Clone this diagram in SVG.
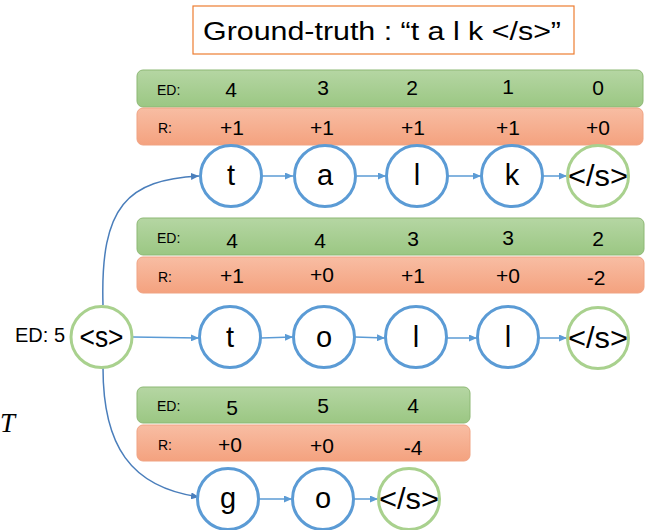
<svg xmlns="http://www.w3.org/2000/svg" width="654" height="530" viewBox="0 0 654 530">
  <defs>
    <linearGradient id="gGreen" x1="0" y1="0" x2="0" y2="1">
      <stop offset="0" stop-color="#B5D6A3"/>
      <stop offset="1" stop-color="#9BC783"/>
    </linearGradient>
    <linearGradient id="gOrange" x1="0" y1="0" x2="0" y2="1">
      <stop offset="0" stop-color="#F8BDA3"/>
      <stop offset="1" stop-color="#F4A27F"/>
    </linearGradient>
    <marker id="arrow" viewBox="0 0 8 7" refX="8" refY="3.5" markerWidth="8" markerHeight="7" markerUnits="userSpaceOnUse" orient="auto">
      <path d="M0,0 L8,3.5 L0,7 z" fill="#5B9BD5"/>
    </marker>
    <marker id="arrowDark" viewBox="0 0 8 7" refX="8" refY="3.5" markerWidth="8" markerHeight="7" markerUnits="userSpaceOnUse" orient="auto">
      <path d="M0,0 L8,3.5 L0,7 z" fill="#4A7EBB"/>
    </marker>
  </defs>
  <style>
    text { font-family: "Liberation Sans", Arial, sans-serif; fill: #000; }
    .bar-ed { fill: url(#gGreen); stroke: #8DB874; stroke-width: 1; }
    .bar-r { fill: url(#gOrange); stroke: #F0A383; stroke-width: 1; }
    .lbl { font-size: 14px; }
    .val { font-size: 21px; text-anchor: middle; }
    .node { fill: #fff; stroke: #5B9BD5; stroke-width: 3; }
    .end { fill: #fff; stroke: #A9D18E; stroke-width: 3; }
    .ntxt { font-size: 29px; text-anchor: middle; }
    .link { fill: none; stroke: #5B9BD5; stroke-width: 1.5; marker-end: url(#arrow); }
    .curve { fill: none; stroke: #4A7EBB; stroke-width: 1.5; marker-end: url(#arrowDark); }
    .margin { font-family: "Liberation Serif", "Times New Roman", serif; font-style: italic; font-size: 27px; }
  </style>

  <!-- title -->
  <g id="title">
    <rect x="193" y="6" width="381" height="48" fill="#fff" stroke="#ED7D31" stroke-width="1.2"/>
    <text x="203" y="40" font-size="25" textLength="358" lengthAdjust="spacingAndGlyphs">Ground-truth : “t a l k &lt;/s&gt;”</text>
  </g>

  <!-- score bars, hypothesis 1 -->
  <g id="bars1">
    <rect class="bar-ed" x="137" y="70" width="506" height="37" rx="6"/>
    <rect class="bar-r" x="137" y="108" width="506" height="37" rx="6"/>
    <text class="lbl" x="157" y="95">ED:</text>
    <text class="lbl" x="158" y="133">R:</text>
    <text class="val" x="231" y="97">4</text>
    <text class="val" x="323" y="95">3</text>
    <text class="val" x="412" y="95">2</text>
    <text class="val" x="508" y="94">1</text>
    <text class="val" x="598" y="95">0</text>
    <text class="val" x="232" y="135">+1</text>
    <text class="val" x="322" y="135">+1</text>
    <text class="val" x="413" y="135">+1</text>
    <text class="val" x="508" y="135">+1</text>
    <text class="val" x="598" y="135">+0</text>
  </g>

  <!-- score bars, hypothesis 2 -->
  <g id="bars2">
    <rect class="bar-ed" x="137" y="218" width="507" height="37" rx="6"/>
    <rect class="bar-r" x="137" y="257" width="507" height="36" rx="6"/>
    <text class="lbl" x="157" y="243">ED:</text>
    <text class="lbl" x="158" y="282">R:</text>
    <text class="val" x="232" y="248">4</text>
    <text class="val" x="320" y="248">4</text>
    <text class="val" x="413" y="246">3</text>
    <text class="val" x="508" y="245">3</text>
    <text class="val" x="598" y="246">2</text>
    <text class="val" x="232" y="283">+1</text>
    <text class="val" x="322" y="282">+0</text>
    <text class="val" x="413" y="283">+1</text>
    <text class="val" x="508" y="283">+0</text>
    <text class="val" x="596" y="285">-2</text>
  </g>

  <!-- score bars, hypothesis 3 -->
  <g id="bars3">
    <rect class="bar-ed" x="137" y="387" width="333" height="36" rx="6"/>
    <rect class="bar-r" x="137" y="425" width="333" height="36" rx="6"/>
    <text class="lbl" x="157" y="411">ED:</text>
    <text class="lbl" x="158" y="450">R:</text>
    <text class="val" x="232" y="415">5</text>
    <text class="val" x="323" y="413">5</text>
    <text class="val" x="413" y="413">4</text>
    <text class="val" x="230" y="452">+0</text>
    <text class="val" x="322" y="453">+0</text>
    <text class="val" x="413" y="455">-4</text>
  </g>

  <!-- connectors -->
  <g id="connectors">
    <path class="curve" d="M103,305 C100,205 128,180 199,176"/>
    <path class="curve" d="M103,368 C103,445 130,487 199,497"/>
    <path class="link" d="M262,176 L293,176"/>
    <path class="link" d="M357,176 L386,176"/>
    <path class="link" d="M448,176 L481,176"/>
    <path class="link" d="M543,176 L567,176"/>
    <path class="link" d="M133,337 L199,338"/>
    <path class="link" d="M261,338 L293,337"/>
    <path class="link" d="M355,337 L385,338"/>
    <path class="link" d="M447,338 L477,338"/>
    <path class="link" d="M539,338 L567,338"/>
    <path class="link" d="M259,499 L292,499"/>
    <path class="link" d="M354,499 L378,499"/>
  </g>

  <!-- start node -->
  <g id="n-start">
    <circle class="end" cx="101.5" cy="337" r="30.5"/>
    <text class="ntxt" x="101.5" y="347" textLength="44" lengthAdjust="spacingAndGlyphs">&lt;s&gt;</text>
    <text x="15" y="342" font-size="20">ED: 5</text>
  </g>

  <!-- hypothesis 1: t a l k </s> -->
  <g id="n1-t"><circle class="node" cx="231" cy="176" r="30.5"/><text class="ntxt" x="231" y="185">t</text></g>
  <g id="n1-a"><circle class="node" cx="325" cy="176" r="30.5"/><text class="ntxt" x="325" y="185">a</text></g>
  <g id="n1-l"><circle class="node" cx="417" cy="176" r="30.5"/><text class="ntxt" x="417" y="185">l</text></g>
  <g id="n1-k"><circle class="node" cx="512" cy="176" r="30.5"/><text class="ntxt" x="512" y="185">k</text></g>
  <g id="n1-end"><circle class="end" cx="598" cy="176" r="30.5"/><text class="ntxt" x="598" y="186" textLength="60" lengthAdjust="spacingAndGlyphs">&lt;/s&gt;</text></g>

  <!-- hypothesis 2: t o l l </s> -->
  <g id="n2-t"><circle class="node" cx="230" cy="337" r="30.5"/><text class="ntxt" x="230" y="347">t</text></g>
  <g id="n2-o"><circle class="node" cx="324" cy="337" r="30.5"/><text class="ntxt" x="324" y="347">o</text></g>
  <g id="n2-l1"><circle class="node" cx="416" cy="337" r="30.5"/><text class="ntxt" x="416" y="347">l</text></g>
  <g id="n2-l2"><circle class="node" cx="508" cy="337" r="30.5"/><text class="ntxt" x="508" y="347">l</text></g>
  <g id="n2-end"><circle class="end" cx="598" cy="338" r="30.5"/><text class="ntxt" x="598" y="348" textLength="60" lengthAdjust="spacingAndGlyphs">&lt;/s&gt;</text></g>

  <!-- hypothesis 3: g o </s> -->
  <g id="n3-g"><circle class="node" cx="228" cy="499" r="30.5"/><text class="ntxt" x="228" y="508">g</text></g>
  <g id="n3-o"><circle class="node" cx="323" cy="499" r="30.5"/><text class="ntxt" x="323" y="508">o</text></g>
  <g id="n3-end"><circle class="end" cx="409" cy="499" r="30.5"/><text class="ntxt" x="409" y="509" textLength="60" lengthAdjust="spacingAndGlyphs">&lt;/s&gt;</text></g>

  <!-- margin glyph -->
  <text class="margin" x="0" y="432">T</text>
</svg>
